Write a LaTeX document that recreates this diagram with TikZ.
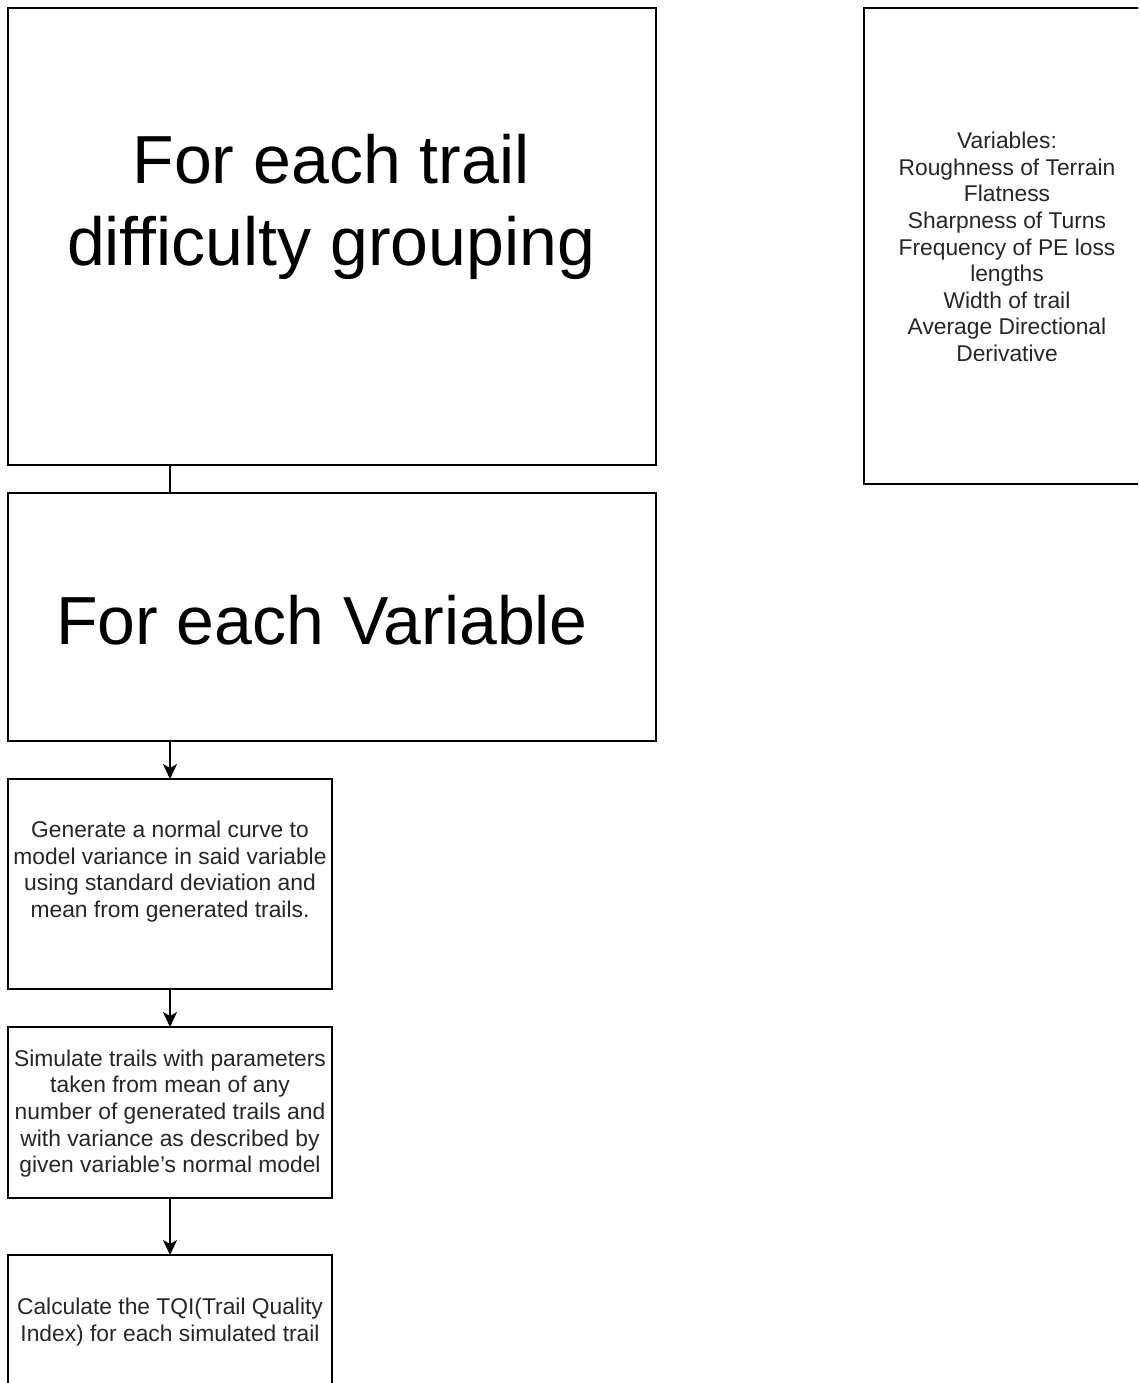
\documentclass[tikz,border=0pt]{standalone}
\usepackage{fontspec}
\setmainfont[Ligatures={ResetAll,NoCommon}]{Liberation Sans}
\usetikzlibrary{arrows.meta}
\begin{document}
\begin{tikzpicture}[x=1pt,y=-1pt,
  box/.style={draw=black,line width=1.5pt,rectangle,inner sep=0pt,outer sep=0pt,fill=white},
  bigtxt/.style={inner sep=0pt,align=center,font=\fontsize{68}{82}\selectfont,text=black},
  smalltxt/.style={inner sep=0pt,align=center,font=\fontsize{22.8}{26.6}\selectfont,text=black!85},
  arr/.style={line width=1.5pt,-{Stealth[length=15pt,width=14pt,inset=4pt]}},
  conn/.style={line width=1.5pt}]
\clip (0,0) rectangle (1138,1383);
\fill[white] (0,0) rectangle (1138,1383);
% boxes
\node[box,minimum width=648pt,minimum height=457pt] (b1) at (332,236.5) {};
\node[box,minimum width=648pt,minimum height=248pt] (b2) at (332,617) {};
\node[box,minimum width=324pt,minimum height=210pt] (b3) at (170,884) {};
\node[box,minimum width=324pt,minimum height=171pt] (b4) at (170,1112.5) {};
\node[box,minimum width=324pt,minimum height=160pt] (b5) at (170,1335) {};
\node[box,minimum width=286pt,minimum height=476pt] (v) at (1007,246) {};
% texts
\node[bigtxt] (t1) at (331,206.5) {For each trail\\difficulty grouping};
\node[bigtxt] (t2) at (322,620.5) {For each Variable};
\node[smalltxt] (t3) at (170,871.5) {Generate a normal curve to\\model variance in said variable\\using standard deviation and\\mean from generated trails.};
\node[smalltxt] (t4) at (170,1113.5) {Simulate trails with parameters\\taken from mean of any\\number of generated trails and\\with variance as described by\\given variable's normal model};
\node[smalltxt] (t5) at (170,1322) {Calculate the TQI(Trail Quality\\Index) for each simulated trail};
\node[smalltxt] (tv) at (1007,247) {Variables:\\Roughness of Terrain\\Flatness\\Sharpness of Turns\\Frequency of PE loss\\lengths\\Width of trail\\Average Directional\\Derivative};
% connectors
\draw[conn] (b3 |- b1.south) -- (b3 |- b2.north);
\draw[arr] (b3 |- b2.south) -- (b3.north);
\draw[arr] (b3.south) -- (b4.north);
\draw[arr] (b4.south) -- (b5.north);
\end{tikzpicture}
\end{document}
